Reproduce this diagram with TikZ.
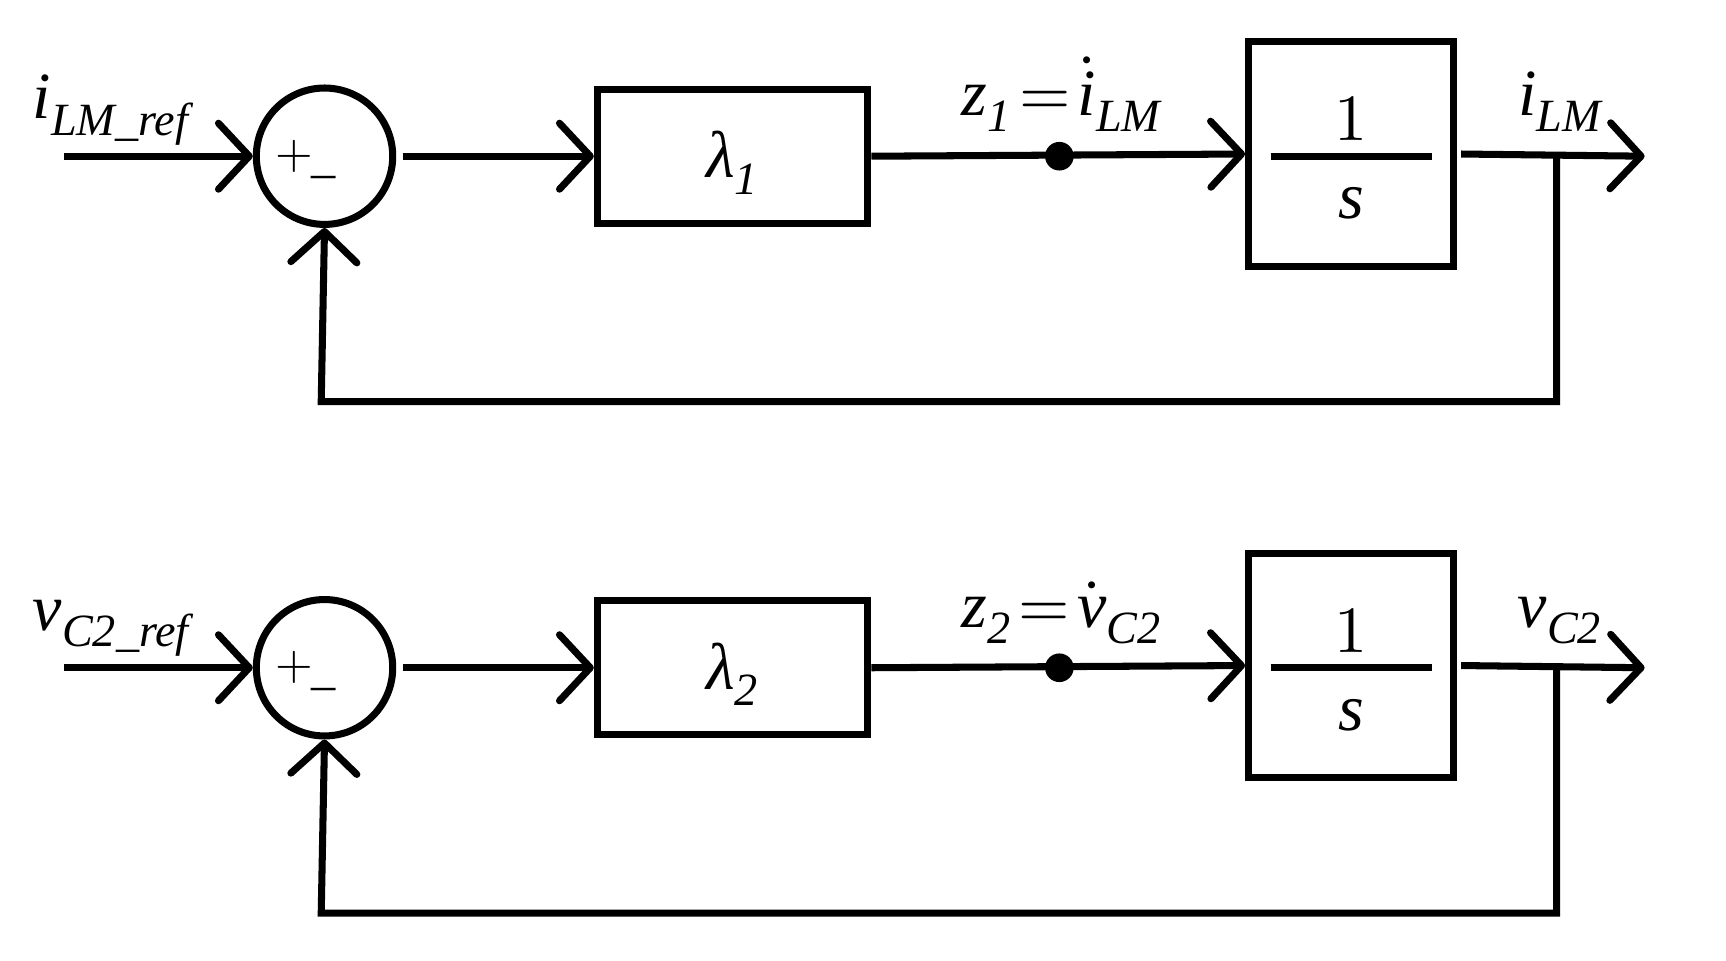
\documentclass[tikz,border=0pt]{standalone}
\usepackage{fontspec}
\setmainfont{Liberation Serif}
\usepackage{unicode-math}
\setmathfont{Latin Modern Math}
\setmathfont[range={it/{latin,Latin,greek}}]{Liberation Serif Italic}
\usetikzlibrary{arrows.meta}
\newcommand{\sbi}[1]{\textit{#1}}
\begin{document}
\begin{tikzpicture}[x=0.5pt,y=-0.5pt,line width=3.2pt,
  ar/.style={-{Straight Barb[length=14pt,width=30pt,line width=3.2pt,round]}},
  blk/.style={draw,minimum width=123pt,minimum height=61pt,inner sep=0pt,line width=3.2pt},
  intg/.style={draw,minimum width=93pt,minimum height=102pt,inner sep=0pt,line width=3.2pt},
  sum/.style={draw,circle,minimum size=62pt,inner sep=0pt,line width=3.2pt},
  lab/.style={font=\fontsize{22}{26}\selectfont},
  big/.style={font=\fontsize{30}{34}\selectfont}]
\useasboundingbox (0,0) rectangle (1569,873);
\foreach \r/\dy/\inl/\zl/\ol/\g in {a/0/{i_{\sbi{LM\_ref}}}/{z_{\sbi{1}}\!=\!\dot{i}_{\sbi{LM}}}/{i_{\sbi{LM}}}/{\lambda_{\sbi{1}}},
                                   b/465/{v_{\sbi{C2\_ref}}}/{z_{\sbi{2}}\!=\!\dot{v}_{\sbi{C2}}}/{v_{\sbi{C2}}}/{\lambda_{\sbi{2}}}}{
  \begin{scope}[yshift=-\dy*0.5pt]
  \coordinate (\r in) at (58,142);
  \node[sum] (\r s) at (295,142) {};
  \node[lab] (\r pl) at (268,142) {$+$};
  \node[lab] (\r mi) at (294,160) {$\_$};
  \node[blk] (\r g) at (666,142) {};
  \node[big] (\r gl) at (666,148) {$\g$};
  \node[intg] (\r i) at (1228,140) {};
  \coordinate (\r fl) at (1155,142); \coordinate (\r fr) at (1302,142);
  \node[big] (\r one) at (1228,108) {$1$};
  \node[big] (\r ss) at (1228,185) {$s$};
  \coordinate (\r dot) at (963,142);
  \coordinate (\r br) at (1415,142);
  \coordinate (\r out) at (1495,142);
  \coordinate (\r c1) at (1415,365);
  \coordinate (\r c2) at (292,365);
  \node[big,anchor=base west] (\r il) at (20,108) {$\inl$};
  \node[big,anchor=base] (\r zl) at (965,105) {$\zl$};
  \node[big,anchor=base] (\r ol) at (1418,105) {$\ol$};
  \draw[ar] (\r in) -- (\r s.west);
  \draw[ar] ([xshift=3pt]\r s.east) -- (\r g.west);
  \draw[ar] (\r g.east) -- (\r i.west);
  \fill (\r dot) circle (6.5pt);
  \draw (\r fl) -- (\r fr);
  \draw[ar] ([xshift=2pt]\r i.east) -- (\r out);
  \draw[ar] (\r br) -- (\r c1) -- (\r c2) -- (\r s.south);
  \end{scope}}
\end{tikzpicture}
\end{document}
